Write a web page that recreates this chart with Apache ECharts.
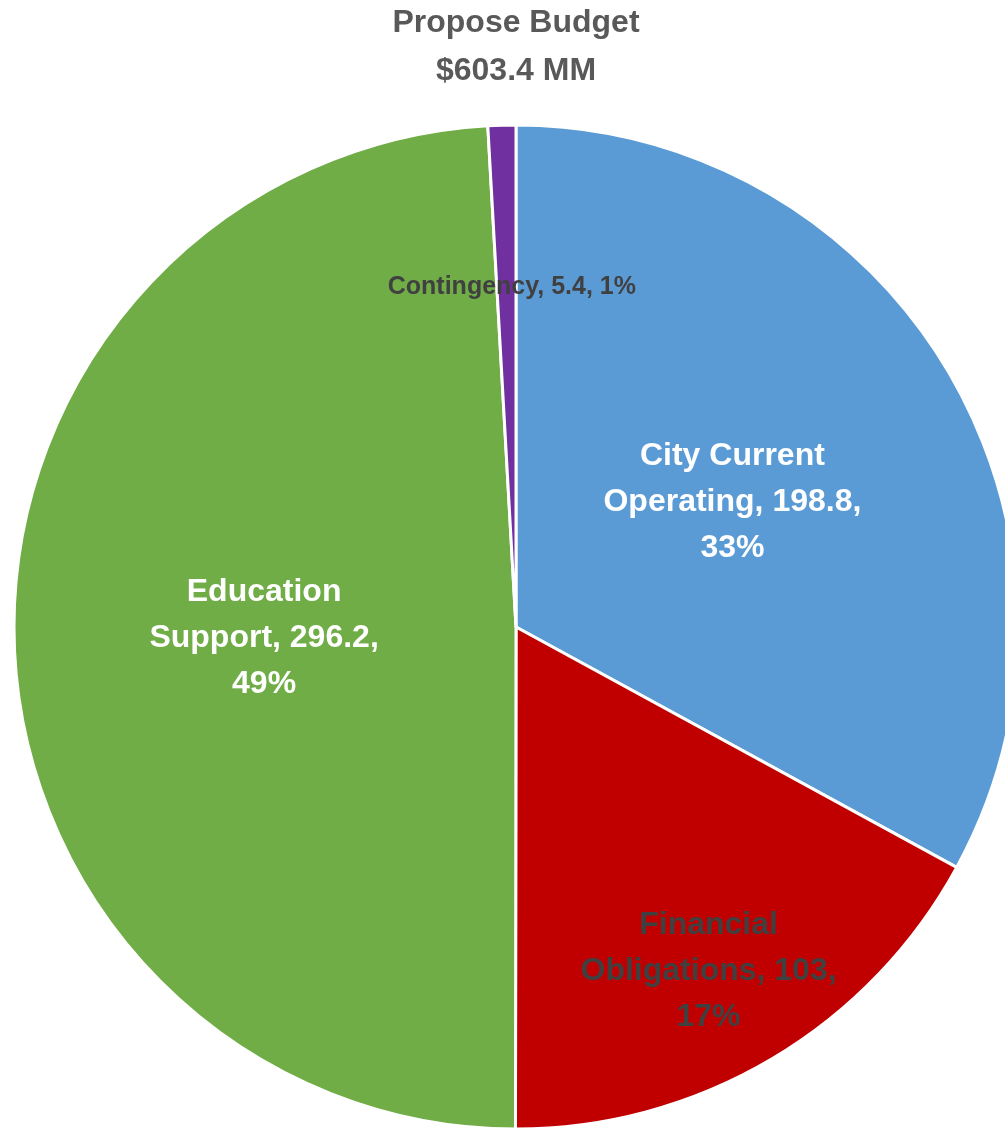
<!DOCTYPE html>
<html>
<head>
<meta charset="utf-8">
<script src="https://cdn.jsdelivr.net/npm/echarts@6/dist/echarts.min.js"></script>
<style>
  html, body { margin: 0; padding: 0; background: #fff; }
  #chart { width: 1005px; height: 1128px; }
</style>
</head>
<body>
<div id="chart"></div>
<script>
// categories (with the line break used in the slice label)
var categories = ['City Current\nOperating', 'Financial\nObligations', 'Education\nSupport', 'Contingency'];
var budgetValues = [198.8, 103, 296.2, 5.4];
var sliceColors = ['#5B9BD5', '#C00000', '#70AD47', '#7030A0'];
var labelColors = ['#FFFFFF', '#404040', '#FFFFFF', '#404040'];
var titleLines = ['Propose Budget', '$603.4 MM'];

var chart = echarts.init(document.getElementById('chart'));

var pieData = categories.map(function (name, i) {
  return {
    name: name,
    value: budgetValues[i],
    itemStyle: { color: sliceColors[i] },
    label: { color: labelColors[i], fontSize: i === 3 ? 25 : 32 }
  };
});

// nudge labels outward a bit like in the original
var labelShift = [[-2, 5], [63, 126], [2, 4], [3, -86]];

var option = {
  title: {
    text: titleLines.join('\n'),
    left: 511,
    textAlign: 'center',
    top: -6,
    textStyle: {
      fontFamily: 'Liberation Sans',
      fontWeight: 'bold',
      fontSize: 32,
      lineHeight: 48,
      color: '#595959'
    }
  },
  series: [{
    type: 'pie',
    center: [516, 627],
    radius: 502,
    startAngle: 90,
    clockwise: true,
    avoidLabelOverlap: false,
    animation: false,
    itemStyle: { borderColor: '#fff', borderWidth: 3 },
    label: {
      position: 'inside',
      fontFamily: 'Liberation Sans',
      fontWeight: 'bold',
      lineHeight: 46,
      align: 'center',
      formatter: function (p) {
        var pct = Math.round(p.percent) + '%';
        if (p.name.indexOf('\n') >= 0) {
          return p.name + ', ' + p.value + ',\n' + pct;
        }
        return p.name + ', ' + p.value + ', ' + pct;
      }
    },
    labelLayout: function (params) {
      var s = labelShift[params.dataIndex];
      return { dx: s[0], dy: s[1] };
    },
    labelLine: { show: false },
    data: pieData
  }]
};

chart.setOption(option);
</script>
</body>
</html>
